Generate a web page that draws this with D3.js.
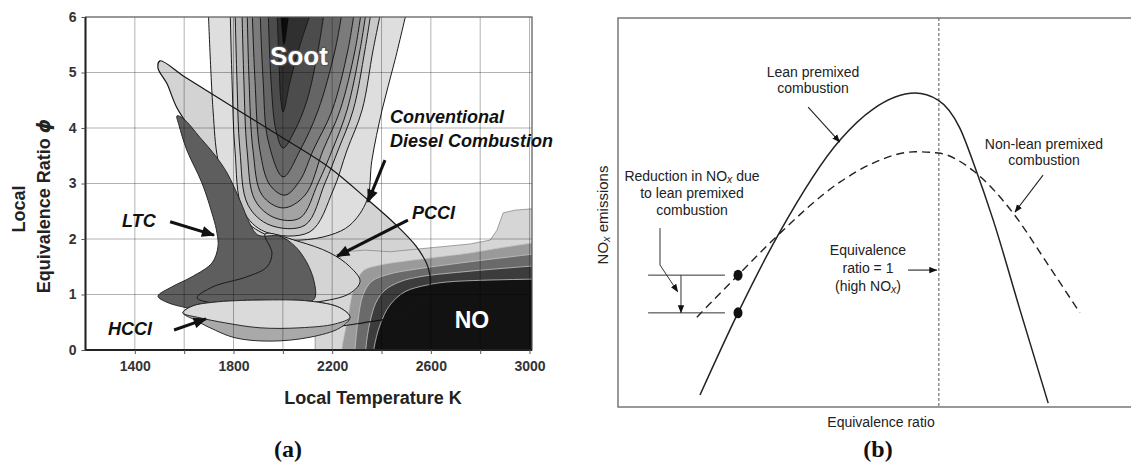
<!DOCTYPE html>
<html>
<head>
<meta charset="utf-8">
<script src="https://cdn.jsdelivr.net/npm/d3@7"></script>
<style>
body { margin: 0; background: #fff; }
text { font-family: "Liberation Sans", Arial, sans-serif; }
.narrow { font-family: "Liberation Sans Narrow", "Arial Narrow", "Liberation Sans", sans-serif; font-size: 14px; fill: #222; }
</style>
</head>
<body>
<div id="chart"></div>
<script>
// ---------- panel (a): local temperature (K) vs local equivalence ratio
const tempGrid = [1400, 1600, 1800, 2000, 2200, 2400, 2600, 2800, 3000];
const tempTicks = [1400, 1800, 2200, 2600, 3000];
const phiTicks = [0, 1, 2, 3, 4, 5, 6];

// soot contours, outermost first (open at the top of the map)
const soot1 = [[1697,6.2],[1717,4.32],[1737,3.42],[1786,2.70],[1867,2.25],[1968,2.02],[2070,1.98],[2191,2.07],[2272,2.25],[2341,2.70],[2361,3.42],[2402,4.32],[2455,5.23],[2507,6.2]];
const soot2 = [[1786,6.2],[1794,4.86],[1806,3.60],[1838,2.52],[1928,2.13],[2110,2.13],[2204,2.88],[2260,3.60],[2321,4.32],[2366,5.41],[2402,6.2]];
const soot3 = [[1806,6.2],[1814,4.86],[1826,3.60],[1859,2.61],[1948,2.25],[2090,2.25],[2171,3.01],[2224,3.60],[2285,4.32],[2333,5.41],[2361,6.2]];
const soot4 = [[1834,6.2],[1842,4.86],[1855,3.60],[1887,2.70],[1968,2.38],[2070,2.38],[2143,3.01],[2200,3.60],[2260,4.32],[2313,5.41],[2341,6.2]];
const soot5 = [[1855,6.2],[1863,4.86],[1879,3.60],[1916,2.79],[2001,2.56],[2090,2.79],[2163,3.60],[2232,4.32],[2293,5.41],[2321,6.2]];
const soot6 = [[1875,6.2],[1887,4.86],[1907,3.60],[1948,2.97],[2009,2.79],[2070,3.06],[2123,3.60],[2200,4.32],[2264,5.41],[2293,6.2]];
const soot7 = [[1907,6.2],[1920,4.86],[1940,3.78],[2001,3.12],[2070,3.60],[2143,4.32],[2212,5.41],[2244,6.2]];
const soot8 = [[1940,6.2],[1952,4.86],[1972,3.96],[2001,3.64],[2049,3.96],[2098,4.50],[2143,5.41],[2171,6.2]];
const soot9 = [[1976,6.2],[1984,5.23],[1992,4.50],[2001,4.29],[2029,4.83],[2070,5.5],[2123,6.2]];
const sootCore = [[1988,6.2],[2005,5.5],[2029,6.2]];

// NO contours, outermost first (closed through the lower right corner)
const no1 = [[2131,-0.2],[2131,0.54],[2159,0.90],[2191,1.44],[2252,1.77],[2333,1.80],[2434,1.77],[2596,1.84],[2759,1.91],[2840,1.98],[2868,2.16],[2893,2.47],[2941,2.52],[3060,2.56]];
const no2 = [[2240,-0.2],[2240,0.04],[2264,0.59],[2280,0.99],[2301,1.26],[2329,1.44],[2394,1.53],[2475,1.59],[2637,1.68],[2759,1.75],[2880,1.84],[3060,1.96]];
const no3 = [[2289,-0.2],[2293,0.04],[2305,0.54],[2325,0.99],[2361,1.24],[2434,1.37],[2515,1.44],[2759,1.59],[3060,1.75]];
const no4 = [[2337,-0.2],[2337,0.04],[2353,0.50],[2378,0.86],[2414,1.08],[2475,1.23],[2556,1.32],[2759,1.42],[3060,1.53]];
const no5 = [[2366,-0.2],[2370,0.04],[2394,0.45],[2434,0.81],[2495,1.05],[2584,1.17],[2678,1.23],[3060,1.28]];
const noCorner = [3060, -0.2];

// combustion regimes
const cdcRegion = [[1502,5.21],[1603,4.92],[1786,4.41],[2001,3.82],[2191,3.28],[2341,2.72],[2455,2.27],[2540,1.87],[2588,1.50],[2596,1.17],[2560,0.86],[2467,0.61],[2325,0.49],[2191,0.41],[2029,0.43],[1867,0.58],[1753,0.79],[1786,1.05],[1847,1.44],[1847,1.98],[1794,2.70],[1725,3.33],[1644,3.87],[1571,4.36],[1530,4.80],[1494,5.08]];
const ltcRegion = [[1571,4.22],[1599,4.16],[1664,3.83],[1725,3.51],[1774,3.19],[1826,2.70],[1867,2.27],[1899,2.07],[1988,2.05],[2049,1.87],[2098,1.57],[2127,1.23],[2131,0.95],[2110,0.86],[1936,0.72],[1717,0.68],[1611,0.76],[1530,0.86],[1494,0.97],[1551,1.14],[1632,1.32],[1713,1.57],[1737,1.86],[1733,2.11],[1717,2.40],[1672,3.01],[1611,3.60],[1579,4.05]];
const pcciRegion = [[1652,0.94],[1717,1.14],[1855,1.32],[1936,1.50],[1956,1.75],[1928,2.09],[2061,1.96],[2191,1.75],[2272,1.50],[2313,1.24],[2272,1.02],[2131,0.86],[1948,0.81],[1745,0.83]];
const hcciOuter = [[1595,0.67],[1632,0.79],[1717,0.86],[1907,0.90],[2110,0.88],[2232,0.76],[2272,0.59],[2232,0.40],[2110,0.23],[1948,0.16],[1806,0.22],[1705,0.40],[1644,0.54]];
const hcciInner = [[1595,0.67],[1632,0.79],[1717,0.86],[1907,0.90],[2110,0.88],[2232,0.76],[2272,0.59],[2212,0.47],[2070,0.40],[1907,0.40],[1765,0.49],[1664,0.58]];

// label arrows [from, to]
const arrowsA = [
  [[2414,3.42],[2345,2.67]],
  [[2507,2.34],[2220,1.69]],
  [[1543,2.31],[1721,2.07]],
  [[1559,0.36],[1688,0.56]]
];

// ---------- panel (b): NOx emissions vs equivalence ratio
const leanCurve = [[0.397,0.31],[0.493,2.42],[0.594,4.42],[0.750,6.86],[0.834,7.66],[0.940,8.07],[0.998,7.89],[1.053,7.17],[1.091,6.17],[1.137,4.81],[1.205,2.49],[1.276,0.10]];
const nonLeanCurve = [[0.389,2.31],[0.493,3.39],[0.594,4.42],[0.750,5.78],[0.834,6.27],[0.940,6.56],[0.998,6.53],[1.091,6.04],[1.187,4.99],[1.273,3.70],[1.356,2.42]];
const markedPoints = [[0.493,3.39],[0.493,2.42]];
const stoichRatio = 1.0;
const bracketX = [0.266, 0.460];
const bracketArrowX = 0.349;
const leader = [[0.296,4.60],[0.296,3.65],[0.341,2.96]];
const arrowsB = [
  [[0.670,7.71],[0.750,6.81]],
  [[1.263,5.96],[1.192,5.01]],
  [[0.922,3.52],[0.995,3.52]]
];

const svg = d3.select("#chart").append("svg")
  .attr("width", 1131).attr("height", 463);

const defs = svg.append("defs");
defs.append("marker").attr("id", "headA")
  .attr("viewBox", "0 0 12 10").attr("refX", 11).attr("refY", 5)
  .attr("markerWidth", 14).attr("markerHeight", 11)
  .attr("markerUnits", "userSpaceOnUse").attr("orient", "auto")
  .append("path").attr("d", "M0,0L12,5L0,10Z").attr("fill", "#111");
defs.append("marker").attr("id", "headB")
  .attr("viewBox", "0 0 10 8").attr("refX", 9.5).attr("refY", 4)
  .attr("markerWidth", 8).attr("markerHeight", 7)
  .attr("markerUnits", "userSpaceOnUse").attr("orient", "auto")
  .append("path").attr("d", "M0,0L10,4L0,8Z").attr("fill", "#111");

// ================= panel (a)
const ax = d3.scaleLinear().domain([1200, 3010]).range([85.5, 532]);
const ay = d3.scaleLinear().domain([0, 6]).range([350, 17]);

defs.append("clipPath").attr("id", "clipA").append("rect")
  .attr("x", ax(1200)).attr("y", ay(6))
  .attr("width", ax(3010) - ax(1200)).attr("height", ay(0) - ay(6));

const openLine = d3.line().x(d => ax(d[0])).y(d => ay(d[1])).curve(d3.curveCatmullRom.alpha(0.5));
const closedLine = d3.line().x(d => ax(d[0])).y(d => ay(d[1])).curve(d3.curveCatmullRomClosed.alpha(0.5));

const map = svg.append("g").attr("clip-path", "url(#clipA)");

// conventional diesel combustion fill sits under the soot island
map.append("path").attr("d", closedLine(cdcRegion)).attr("fill", "#d3d3d3");

const sootFill = ["#dedede", "#c9c9c9", "#b5b5b5", "#a3a3a3", "#909090", "#7b7b7b", "#656565", "#4c4c4c", "#303030"];
[soot1, soot2, soot3, soot4, soot5, soot6, soot7, soot8, soot9].forEach((c, i) => {
  map.append("path").attr("d", openLine(c) + "Z")
    .attr("fill", sootFill[i]).attr("stroke", "#1a1a1a").attr("stroke-width", 1);
});
map.append("path").attr("d", openLine(sootCore) + "Z").attr("fill", "#0c0c0c");

const noFill = ["#d6d6d6", "#9a9a9a", "#6a6a6a", "#3c3c3c", "#121212"];
[no1, no2, no3, no4, no5].forEach((c, i) => {
  const lin = i === 0 ? d3.line().x(d => ax(d[0])).y(d => ay(d[1])) : openLine;
  map.append("path")
    .attr("d", lin(c) + "L" + ax(noCorner[0]) + "," + ay(noCorner[1]) + "Z")
    .attr("fill", noFill[i]).attr("stroke", i === 0 ? "#8a8a8a" : "#c4c4c4").attr("stroke-width", 0.8);
});

map.append("path").attr("d", closedLine(pcciRegion)).attr("fill", "#d4d4d4");
map.append("path").attr("d", closedLine(cdcRegion)).attr("fill", "none")
  .attr("stroke", "#151515").attr("stroke-width", 1.2);
map.append("path").attr("d", closedLine(ltcRegion)).attr("fill", "#5e5e5e")
  .attr("stroke", "#2a2a2a").attr("stroke-width", 1);
map.append("path").attr("d", closedLine(pcciRegion)).attr("fill", "none")
  .attr("stroke", "#1a1a1a").attr("stroke-width", 1);
map.append("path").attr("d", closedLine(hcciOuter)).attr("fill", "#a9a9a9")
  .attr("stroke", "#2a2a2a").attr("stroke-width", 1);
map.append("path").attr("d", closedLine(hcciInner)).attr("fill", "#dadada")
  .attr("stroke", "#2a2a2a").attr("stroke-width", 1);

// grid on top, darkening whatever lies below
const grid = map.append("g").attr("stroke", "#000").attr("stroke-opacity", 0.3).attr("stroke-width", 1);
grid.selectAll(".gv").data(tempGrid).enter().append("line")
  .attr("x1", d => ax(d)).attr("x2", d => ax(d)).attr("y1", ay(0)).attr("y2", ay(6));
grid.selectAll(".gh").data(phiTicks.slice(1, 6)).enter().append("line")
  .attr("x1", ax(1200)).attr("x2", ax(3010)).attr("y1", d => ay(d)).attr("y2", d => ay(d));

svg.append("rect").attr("x", ax(1200)).attr("y", ay(6))
  .attr("width", ax(3010) - ax(1200)).attr("height", ay(0) - ay(6))
  .attr("fill", "none").attr("stroke", "#555").attr("stroke-width", 1.2);
svg.append("path")
  .attr("d", "M" + ax(1200) + "," + ay(6) + "V" + ay(0) + "H" + ax(3010))
  .attr("fill", "none").attr("stroke", "#222").attr("stroke-width", 2);

const xAxis = svg.append("g").attr("transform", "translate(0," + ay(0) + ")")
  .call(d3.axisBottom(ax).tickValues(tempGrid).tickSize(4).tickPadding(7)
    .tickFormat(d => tempTicks.includes(d) ? d : ""));
const yAxis = svg.append("g").attr("transform", "translate(" + ax(1200) + ",0)")
  .call(d3.axisLeft(ay).tickValues(phiTicks).tickSize(4).tickPadding(5).tickFormat(d3.format("d")));
[xAxis, yAxis].forEach(g => {
  g.select(".domain").remove();
  g.selectAll("line").attr("stroke", "#555");
  g.selectAll("text").attr("fill", "#333")
    .style("font-size", "14px").style("font-weight", "bold")
    .style("font-family", "'Liberation Sans', Arial, sans-serif");
});

svg.append("text").attr("x", 373).attr("y", 404).attr("text-anchor", "middle")
  .style("font-size", "18px").style("font-weight", "bold").attr("fill", "#222")
  .text("Local Temperature K");
svg.append("text").attr("transform", "translate(25,209) rotate(-90)").attr("text-anchor", "middle")
  .style("font-size", "18px").style("font-weight", "bold").attr("fill", "#222")
  .text("Local");
const yt = svg.append("text").attr("transform", "translate(50,206) rotate(-90)").attr("text-anchor", "middle")
  .style("font-size", "18px").style("font-weight", "bold").attr("fill", "#222");
yt.append("tspan").text("Equivalence Ratio ");
yt.append("tspan").style("font-style", "italic").style("font-family", "'DejaVu Sans', sans-serif").text("\u03D5");

// region labels
svg.append("text").attr("x", 299).attr("y", 65).attr("text-anchor", "middle")
  .style("font-size", "26px").style("font-weight", "bold")
  .attr("fill", "#fff").attr("stroke", "#555").attr("stroke-width", 2.5).attr("paint-order", "stroke")
  .text("Soot");
svg.append("text").attr("x", 472).attr("y", 328).attr("text-anchor", "middle")
  .style("font-size", "23px").style("font-weight", "bold").attr("fill", "#fff")
  .text("NO");

const italicLabel = (x, y, s) => svg.append("text").attr("x", x).attr("y", y)
  .style("font-size", "18px").style("font-weight", "bold").style("font-style", "italic")
  .attr("fill", "#111").text(s);
italicLabel(390, 123, "Conventional");
italicLabel(390, 147, "Diesel Combustion");
italicLabel(412, 219, "PCCI");
italicLabel(122, 227, "LTC");
italicLabel(108, 335, "HCCI");

svg.selectAll(".arrA").data(arrowsA).enter().append("line")
  .attr("x1", d => ax(d[0][0])).attr("y1", d => ay(d[0][1]))
  .attr("x2", d => ax(d[1][0])).attr("y2", d => ay(d[1][1]))
  .attr("stroke", "#111").attr("stroke-width", 3).attr("marker-end", "url(#headA)");

svg.append("text").attr("x", 288).attr("y", 457).attr("text-anchor", "middle")
  .style("font-family", "'Liberation Serif', 'Times New Roman', serif")
  .style("font-size", "24px").style("font-weight", "bold").attr("fill", "#111").text("(a)");

// ================= panel (b)
const bx = d3.scaleLinear().domain([0.19, 1.48]).range([618, 1129]);
const by = d3.scaleLinear().domain([0, 10]).range([407, 18]);
const curve = d3.line().x(d => bx(d[0])).y(d => by(d[1])).curve(d3.curveMonotoneX);

// open frame: top, left and bottom edges run off the right side
svg.append("path")
  .attr("d", "M" + 1131 + "," + by(10) + "H" + bx(0.19) + "V" + by(0) + "H" + 1131)
  .attr("fill", "none").attr("stroke", "#777").attr("stroke-width", 1.5);

svg.append("line").attr("x1", bx(stoichRatio)).attr("x2", bx(stoichRatio))
  .attr("y1", by(10)).attr("y2", by(0))
  .attr("stroke", "#555").attr("stroke-width", 1).attr("stroke-dasharray", "3,2");

svg.append("path").attr("d", curve(leanCurve)).attr("fill", "none")
  .attr("stroke", "#222").attr("stroke-width", 1.5);
svg.append("path").attr("d", curve(nonLeanCurve)).attr("fill", "none")
  .attr("stroke", "#222").attr("stroke-width", 1.4).attr("stroke-dasharray", "8,5");

svg.selectAll(".pt").data(markedPoints).enter().append("ellipse")
  .attr("cx", d => bx(d[0])).attr("cy", d => by(d[1])).attr("rx", 4.5).attr("ry", 5.5)
  .attr("fill", "#111");

svg.selectAll(".br").data(markedPoints).enter().append("line")
  .attr("x1", bx(bracketX[0])).attr("x2", bx(bracketX[1]))
  .attr("y1", d => by(d[1])).attr("y2", d => by(d[1]))
  .attr("stroke", "#333").attr("stroke-width", 1);
svg.append("line").attr("x1", bx(bracketArrowX)).attr("x2", bx(bracketArrowX))
  .attr("y1", by(markedPoints[0][1])).attr("y2", by(markedPoints[1][1]))
  .attr("stroke", "#333").attr("stroke-width", 1).attr("marker-end", "url(#headB)");
svg.append("path").attr("d", d3.line().x(d => bx(d[0])).y(d => by(d[1]))(leader))
  .attr("fill", "none").attr("stroke", "#333").attr("stroke-width", 1).attr("marker-end", "url(#headB)");

svg.selectAll(".arrB").data(arrowsB).enter().append("line")
  .attr("x1", d => bx(d[0][0])).attr("y1", d => by(d[0][1]))
  .attr("x2", d => bx(d[1][0])).attr("y2", d => by(d[1][1]))
  .attr("stroke", "#222").attr("stroke-width", 1.1).attr("marker-end", "url(#headB)");

const note = (x, y, s) => svg.append("text").attr("class", "narrow")
  .attr("x", x).attr("y", y).attr("text-anchor", "middle").text(s);
// text with an NOx subscript
function noxText(x, y, before, after) {
  const t = svg.append("text").attr("class", "narrow").attr("x", x).attr("y", y).attr("text-anchor", "middle");
  t.append("tspan").text(before + "NO");
  t.append("tspan").attr("dy", 2).style("font-size", "10.5px").style("font-style", "italic").text("x");
  t.append("tspan").attr("dy", -2).text(after);
  return t;
}
note(813, 77, "Lean premixed");
note(813, 93, "combustion");
note(1044, 149, "Non-lean premixed");
note(1044, 165, "combustion");
noxText(692, 181, "Reduction in ", " due");
note(692, 198, "to lean premixed");
note(692, 215, "combustion");
note(868, 255, "Equivalence");
note(868, 273, "ratio = 1");
noxText(868, 291, "(high ", ")");
note(881, 427, "Equivalence ratio");

const yl = svg.append("text").attr("class", "narrow").attr("transform", "translate(608,215) rotate(-90)")
  .attr("text-anchor", "middle").style("font-size", "15px");
yl.append("tspan").text("NO");
yl.append("tspan").attr("dy", 2).style("font-size", "11px").style("font-style", "italic").text("x");
yl.append("tspan").attr("dy", -2).text(" emissions");

svg.append("text").attr("x", 878).attr("y", 457).attr("text-anchor", "middle")
  .style("font-family", "'Liberation Serif', 'Times New Roman', serif")
  .style("font-size", "24px").style("font-weight", "bold").attr("fill", "#111").text("(b)");
</script>
</body>
</html>
